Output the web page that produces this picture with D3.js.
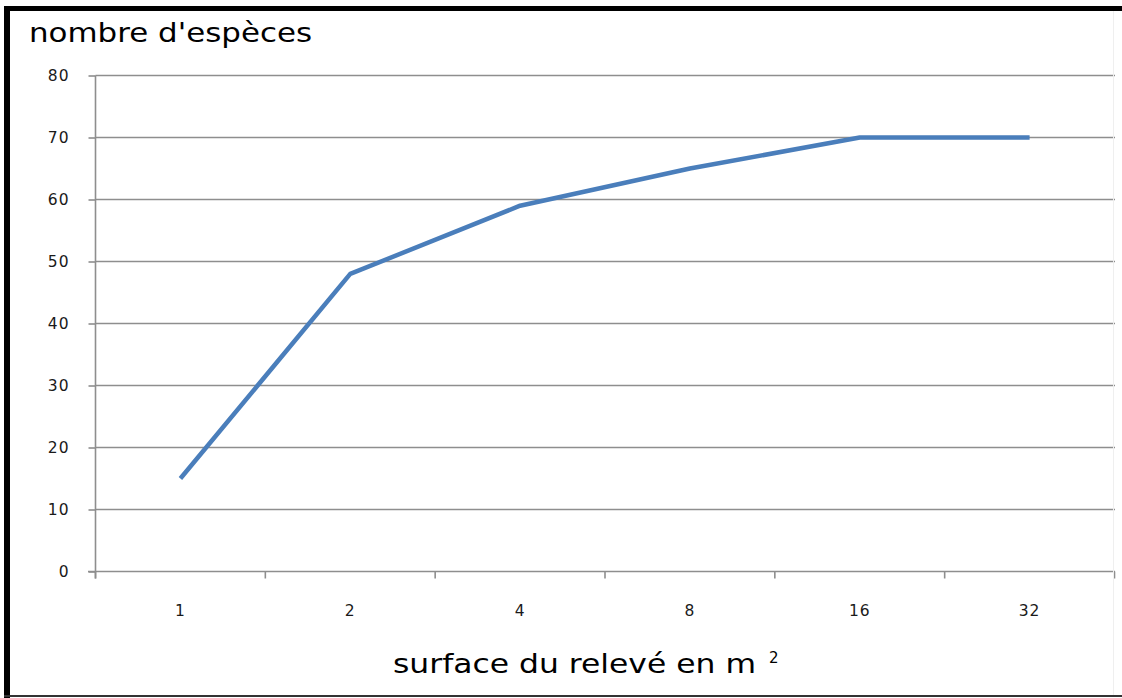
<!DOCTYPE html>
<html><head><meta charset="utf-8">
<script src="https://cdn.jsdelivr.net/npm/d3@7"></script>
<style>body{margin:0;background:#fff}svg{display:block}</style>
</head><body>
<script>
const categories = ["1","2","4","8","16","32"];
const species = [15, 48, 59, 65, 70, 70];
const yTicks = [0,10,20,30,40,50,60,70,80];
const yTitle = "nombre d'espèces";
const xTitle = "surface du relevé en m";

const W = 1122, H = 698;
const svg = d3.select("body").append("svg").attr("width", W).attr("height", H);
svg.append("rect").attr("width", W).attr("height", H).attr("fill", "#fff");

const x = d3.scaleBand().domain(categories).range([95.5, 1114.5]).padding(0);
const y = d3.scaleLinear().domain([0, 80]).range([571.5, 75.5]);

// gridlines
svg.append("g").selectAll("line").data(yTicks.filter(d => d > 0)).join("line")
  .attr("x1", 95.5).attr("x2", 1115).attr("y1", d => y(d)).attr("y2", d => y(d))
  .attr("stroke", "#8e8e8e").attr("stroke-width", 1.6);

// y axis
const yAxis = d3.axisLeft(y).tickValues(yTicks).tickSize(7).tickPadding(18).tickFormat(d3.format("d"));
const gy = svg.append("g").attr("transform", "translate(95.5,0)").call(yAxis);
gy.attr("font-size", null).attr("font-family", null);
gy.select(".domain").attr("stroke", "#8e8e8e").attr("stroke-width", 1.6).attr("d", `M0,${y(80)}V${y(0)+7}`);
gy.selectAll(".tick line").attr("stroke", "#8e8e8e").attr("stroke-width", 1.6);
gy.selectAll(".tick text").style("font-family", "DejaVu Sans").style("font-size", "15.5px")
  .attr("letter-spacing", "1px").attr("fill", "#1a1a1a").attr("x", -26);

// x axis
const gx = svg.append("g").attr("transform", `translate(0,${y(0)})`);
gx.append("line").attr("x1", 88).attr("x2", 1115).attr("stroke", "#8e8e8e").attr("stroke-width", 1.6);
const bounds = categories.map(c => x(c)).concat([x(categories[categories.length-1]) + x.bandwidth()]);
gx.selectAll("line.tk").data(bounds).join("line").attr("class","tk")
  .attr("x1", d => d).attr("x2", d => d).attr("y1", 0).attr("y2", 7)
  .attr("stroke", "#8e8e8e").attr("stroke-width", 1.6);
gx.selectAll("text").data(categories).join("text")
  .attr("x", d => x(d) + x.bandwidth()/2).attr("y", 44)
  .attr("text-anchor", "middle").style("font-family", "DejaVu Sans").style("font-size", "15.5px")
  .attr("letter-spacing", "1px").attr("fill", "#1a1a1a").text(d => d);

// line
const line = d3.line().x((d, i) => x(categories[i]) + x.bandwidth()/2).y(d => y(d));
svg.append("path").datum(species).attr("d", line).attr("fill", "none")
  .attr("stroke", "#4a7ebb").attr("stroke-width", 4.5).attr("stroke-linejoin", "round");

// titles
svg.append("text").attr("x", 29).attr("y", 42).attr("font-family", "DejaVu Sans")
  .attr("font-size", 27).attr("textLength", 283).attr("lengthAdjust", "spacingAndGlyphs")
  .attr("fill", "#000").text(yTitle);
const xt = svg.append("text").attr("x", 393).attr("y", 673).attr("font-family", "DejaVu Sans")
  .attr("font-size", 27).attr("fill", "#000");
xt.append("tspan").attr("textLength", 363).attr("lengthAdjust", "spacingAndGlyphs").text(xTitle);
xt.append("tspan").attr("dx", 13).attr("dy", -10).attr("font-size", 15).text("2");

// frame
svg.append("line").attr("x1", 1113.5).attr("x2", 1113.5).attr("y1", 11).attr("y2", 696).attr("stroke", "#efefef").attr("stroke-width", 1);
svg.append("rect").attr("x", 4).attr("y", 6).attr("width", W - 4).attr("height", 5).attr("fill", "#000");
svg.append("rect").attr("x", 4).attr("y", 6).attr("width", 6).attr("height", H - 6).attr("fill", "#000");
svg.append("rect").attr("x", 4).attr("y", 695).attr("width", W - 4).attr("height", 2).attr("fill", "#333");
</script>
</body></html>
